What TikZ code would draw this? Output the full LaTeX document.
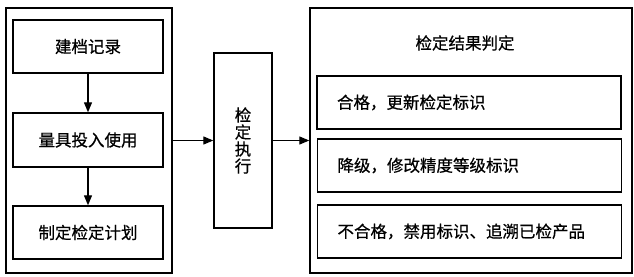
\documentclass[tikz,border=0pt]{standalone}
\usepackage{fontspec}
\setmainfont[FakeBold=0.6,BoldFont={Noto Sans CJK SC}]{Noto Sans CJK SC}
\usetikzlibrary{arrows.meta}
\begin{document}
\begin{tikzpicture}[x=1pt,y=-1pt,
  box/.style={draw=black, line width=1.4pt, fill=white, inner sep=0pt, font=\fontsize{16.5}{20}\selectfont\bfseries},
  leftbox/.style={box, align=left, text width=264pt, inner xsep=20pt, minimum height=53pt},
  arr/.style={line width=1.3pt, -{Triangle[length=10pt,width=8pt]}}]
\useasboundingbox (0,0) rectangle (634,276);
\node[box, minimum width=166pt, minimum height=265pt] (lo) at (89,140.5) {};
\node[box, minimum width=150pt, minimum height=53pt] (b1) at (88,46.5) {建档记录};
\node[box, minimum width=150pt, minimum height=54pt] (b2) at (88,140) {量具投入使用};
\node[box, minimum width=150pt, minimum height=53pt] (b3) at (88,232.5) {制定检定计划};
\node[box, minimum width=58pt, minimum height=175pt, align=center, font=\fontsize{16.5}{17}\selectfont\bfseries] (mid) at (243,140.5) {检\\定\\执\\行};
\node[box, minimum width=322pt, minimum height=265pt] (ro) at (471,140.5) {};
\node[font=\fontsize{16.5}{20}\selectfont\bfseries] (title) at (465,43) {检定结果判定};
\node[leftbox] (ra) at (469,102.5) {合格，更新检定标识};
\node[leftbox] (rb) at (469.5,165.5) {降级，修改精度等级标识};
\node[leftbox] (rc) at (469.5,231.5) {不合格，禁用标识、追溯已检产品};
\draw[arr] (b1) -- (b2);
\draw[arr] (b2) -- (b3);
\draw[arr] (lo.east) -- (mid.west);
\draw[arr] (mid.east) -- (ro.west);
\end{tikzpicture}
\end{document}
